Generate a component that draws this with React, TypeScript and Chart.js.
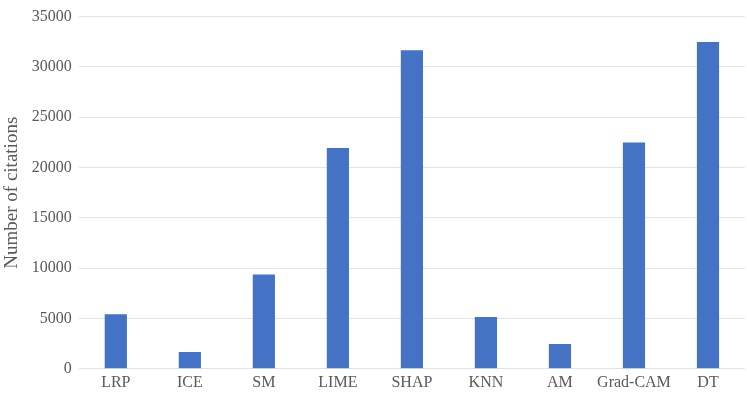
import React, { useEffect, useRef } from "react";
import { Chart, registerables } from "chart.js";

Chart.register(...registerables);

const categories = ["LRP", "ICE", "SM", "LIME", "SHAP", "KNN", "AM", "Grad-CAM", "DT"];
const citations = [5430, 1670, 9370, 21950, 31650, 5150, 2460, 22500, 32470];
const yTicks = [0, 5000, 10000, 15000, 20000, 25000, 30000, 35000];

const FAMILY = "'Liberation Serif', 'Times New Roman', serif";

export default function App() {
  const ref = useRef<HTMLCanvasElement | null>(null);
  useEffect(() => {
    document.body.style.margin = "0";
    const ctx = ref.current!;
    const chart = new Chart(ctx, {
      type: "bar",
      data: {
        labels: categories,
        datasets: [
          {
            data: citations,
            backgroundColor: "#4472C4",
            barPercentage: 0.6,
            categoryPercentage: 0.5,
          },
        ],
      },
      options: {
        animation: false,
        responsive: false,
        maintainAspectRatio: false,
        layout: { padding: { top: 13, right: 2, left: 1, bottom: 3 } },
        plugins: { legend: { display: false }, tooltip: { enabled: false } },
        scales: {
          x: {
            grid: { display: false, drawTicks: false },
            border: { display: false },
            ticks: {
              color: "#595959",
              font: { family: FAMILY, size: 16 },
              padding: 4,
              maxRotation: 0,
              autoSkip: false,
            },
          },
          y: {
            min: 0,
            max: 35000,
            afterBuildTicks: (axis: any) => {
              axis.ticks = yTicks.map((v) => ({ value: v }));
            },
            grid: { color: "#e3e3e3", drawTicks: false, lineWidth: 1 },
            border: { display: false },
            ticks: {
              color: "#595959",
              font: { family: FAMILY, size: 16 },
              padding: 7,
              callback: (v: any) => String(v),
            },
            title: {
              display: true,
              text: "Number of citations",
              color: "#595959",
              font: { family: FAMILY, size: 19 },
              padding: { top: 0, bottom: 1 },
            },
          },
        },
      },
    });
    return () => chart.destroy();
  }, []);
  return (
    <div style={{ position: "absolute", left: 0, top: 0, width: 747, height: 399 }}>
      <canvas ref={ref} width={747} height={399} style={{ width: 747, height: 399 }} />
    </div>
  );
}
